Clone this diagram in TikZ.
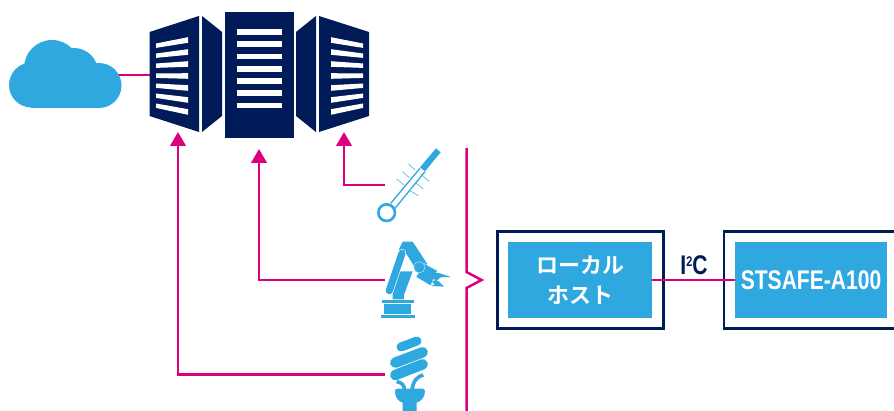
\documentclass[tikz,border=0pt]{standalone}
\usepackage{fontspec}
\setmainfont{Liberation Sans}
\newfontfamily\narrowfont[FakeStretch=0.78]{Liberation Sans Bold}
\newfontfamily\jpfont{Noto Sans CJK JP Bold}
\usetikzlibrary{arrows.meta}
\definecolor{navy}{HTML}{011A58}
\definecolor{sky}{HTML}{2FA8E0}
\definecolor{mag}{HTML}{DC007F}
\tikzset{
  wire/.style={draw=mag,line width=2.5pt},
  arrowwire/.style={wire,-{Triangle[width=15.5pt,length=14pt]}},
  outerbox/.style={draw=navy,line width=2.4pt,fill=white,minimum height=97pt,inner sep=0pt},
  innerbox/.style={fill=sky,minimum height=76pt,inner sep=0pt,text=white},
  srv/.style={fill=navy},
  slat/.style={fill=white},
  ico/.style={fill=sky},
  icoline/.style={draw=sky!80,line width=.7pt},
  icoedge/.style={fill=sky,draw=white,line width=.3pt}
}
\begin{document}
\begin{tikzpicture}[x=1pt,y=-1pt]
\path[use as bounding box,clip] (0,0) rectangle (894,411);
% connectors under the shapes
\coordinate (cloudend) at (110,75);
\coordinate (srvleft) at (150,75);
\draw[wire] (cloudend) -- (srvleft);
% cloud
\fill[sky] (31.5,85) circle (22.5) (52,68) circle (28) (74,72) circle (24) (99,85.5) circle (22.5);
\fill[sky] (31,78) rectangle (99,108);
% servers
\fill[srv] (149.5,32) -- (199,16) -- (199,132) -- (149.5,116) -- cycle;
\fill[srv] (202,16) -- (222,32) -- (222,116) -- (202,132) -- cycle;
\fill[srv] (225,12) rectangle (294,138);
\fill[srv] (296,32) -- (316,16) -- (316,132) -- (296,116) -- cycle;
\fill[srv] (319,16) -- (369,32) -- (369,116) -- (319,132) -- cycle;
\foreach \i in {0,...,6}{
  \pgfmathsetmacro{\c}{32+12.25*\i}
  \fill[slat] (237,\c-2.8) rectangle (282,\c+2.8);
  \pgfmathsetmacro{\r}{40+12*\i}
  \pgfmathsetmacro{\l}{45.7+10*\i}
  \fill[slat] (156,\l-2.2) -- (188,\r-2.8) -- (188,\r+2.8) -- (156,\l+2.2) -- cycle;
  \fill[slat] (363,\l-2.2) -- (331,\r-2.8) -- (331,\r+2.8) -- (363,\l+2.2) -- cycle;
}
% signal lines
\coordinate (srvA) at (178,132);
\coordinate (srvB) at (259,149);
\coordinate (srvC) at (344,132);
\coordinate (bulbend) at (385,374.5);
\coordinate (robotend) at (385,280);
\coordinate (thermoend) at (385,185);
\draw[arrowwire] (bulbend) -| (srvA);
\draw[arrowwire] (robotend) -| (srvB);
\draw[arrowwire] (thermoend) -| (srvC);
% brace
\coordinate (bracetop) at (466.5,148);
\coordinate (bracebot) at (466.5,411);
\coordinate (bracetip) at (481.5,280);
\draw[wire,miter limit=10] (bracetop) -- (466.5,272) -- (bracetip) -- (466.5,288) -- (bracebot);
% icons, drawn in a 3x grid
\begin{scope}[shift={(330,140)},x=0.3333pt,y=-0.3333pt]
  % thermometer
  \draw[sky,line width=2.6pt] (170,218) circle (25);
  \draw[sky,line width=1.3pt] (182,190) -- (270,85) (195,205) -- (285,95);
  \fill[sky] (270,82) -- (318,25) -- (332,37) -- (285,94) -- cycle;
  \draw[icoline] (235,72) -- (255,90) (217,95) -- (238,113) (200,117) -- (221,134)
                 (272,102) -- (298,125) (257,129) -- (280,147) (240,152) -- (265,167);
  % robot
  \fill[ico] (153,525) rectangle (255,534);
  \fill[ico] (162,492) rectangle (244,522);
  \fill[ico] (157,480) rectangle (251,488);
  \fill[ico] (188,478) -- (222,478) -- (222,465) -- (248,394) -- (209,394) -- (188,462) -- cycle;
  \fill[ico] (206,330) -- (218,305) -- (248,305) -- (292,372) -- (266,402) -- (236,352) -- (226,338) -- cycle;
  \draw[white,line width=8.4pt,line cap=round] (178,452) -- (216,340);
  \draw[sky,line width=7.2pt,line cap=round] (178,452) -- (216,340);
  \path[icoedge] (283,371) -- (322,392) -- (302,437) -- (258,411) -- cycle;
  \path[icoedge] (268,382) circle (17);
  \fill[ico] (314,398) -- (330,400) -- (362,411) -- (332,412) -- (320,422) -- (309,416) -- cycle;
  \fill[ico] (306,426) -- (316,420) -- (326,424) -- (342,440) -- (303,438) -- (314,433) -- cycle;
  % bulb
  \draw[sky,line width=9pt,line cap=round] (213,621) -- (261,603);
  \draw[sky,line width=10.5pt,line cap=round] (196,668) -- (278,637);
  \draw[sky,line width=10.5pt,line cap=round] (196,705) -- (278,673);
  \draw[sky,line width=3.6pt] (224,752) .. controls (224,735) and (214,727) .. (200,725);
  \draw[sky,line width=3.6pt] (246,752) .. controls (248,725) and (262,708) .. (280,705);
  \fill[ico] (203,746) -- (277,746) .. controls (283,746) and (285,750) .. (285,755)
     .. controls (285,772) and (272,785) .. (260,788) -- (260,813) -- (218,813) -- (218,788)
     .. controls (205,785) and (195,772) .. (195,755) .. controls (195,750) and (197,746) .. (203,746) -- cycle;
\end{scope}
% boxes
\node[outerbox,minimum width=166pt] (hostouter) at (580.5,280) {};
\node[outerbox,minimum width=200pt] (seouter) at (824,280) {};
\node[innerbox,minimum width=144pt,align=center,font=\jpfont\fontsize{22}{30}\selectfont] (host) at (580,280) {ローカル\\ホスト};
\node[innerbox,minimum width=152pt,font=\narrowfont\fontsize{27}{27}\selectfont] (se) at (811,280) {STSAFE-A100};
\draw[wire] (host) -- (se);
\node[text=navy,inner sep=0pt,font=\narrowfont\fontsize{27}{27}\selectfont] (bus) at (694,265.5) {I\raisebox{8pt}{\fontsize{14}{14}\selectfont 2}C};
\end{tikzpicture}
\end{document}
